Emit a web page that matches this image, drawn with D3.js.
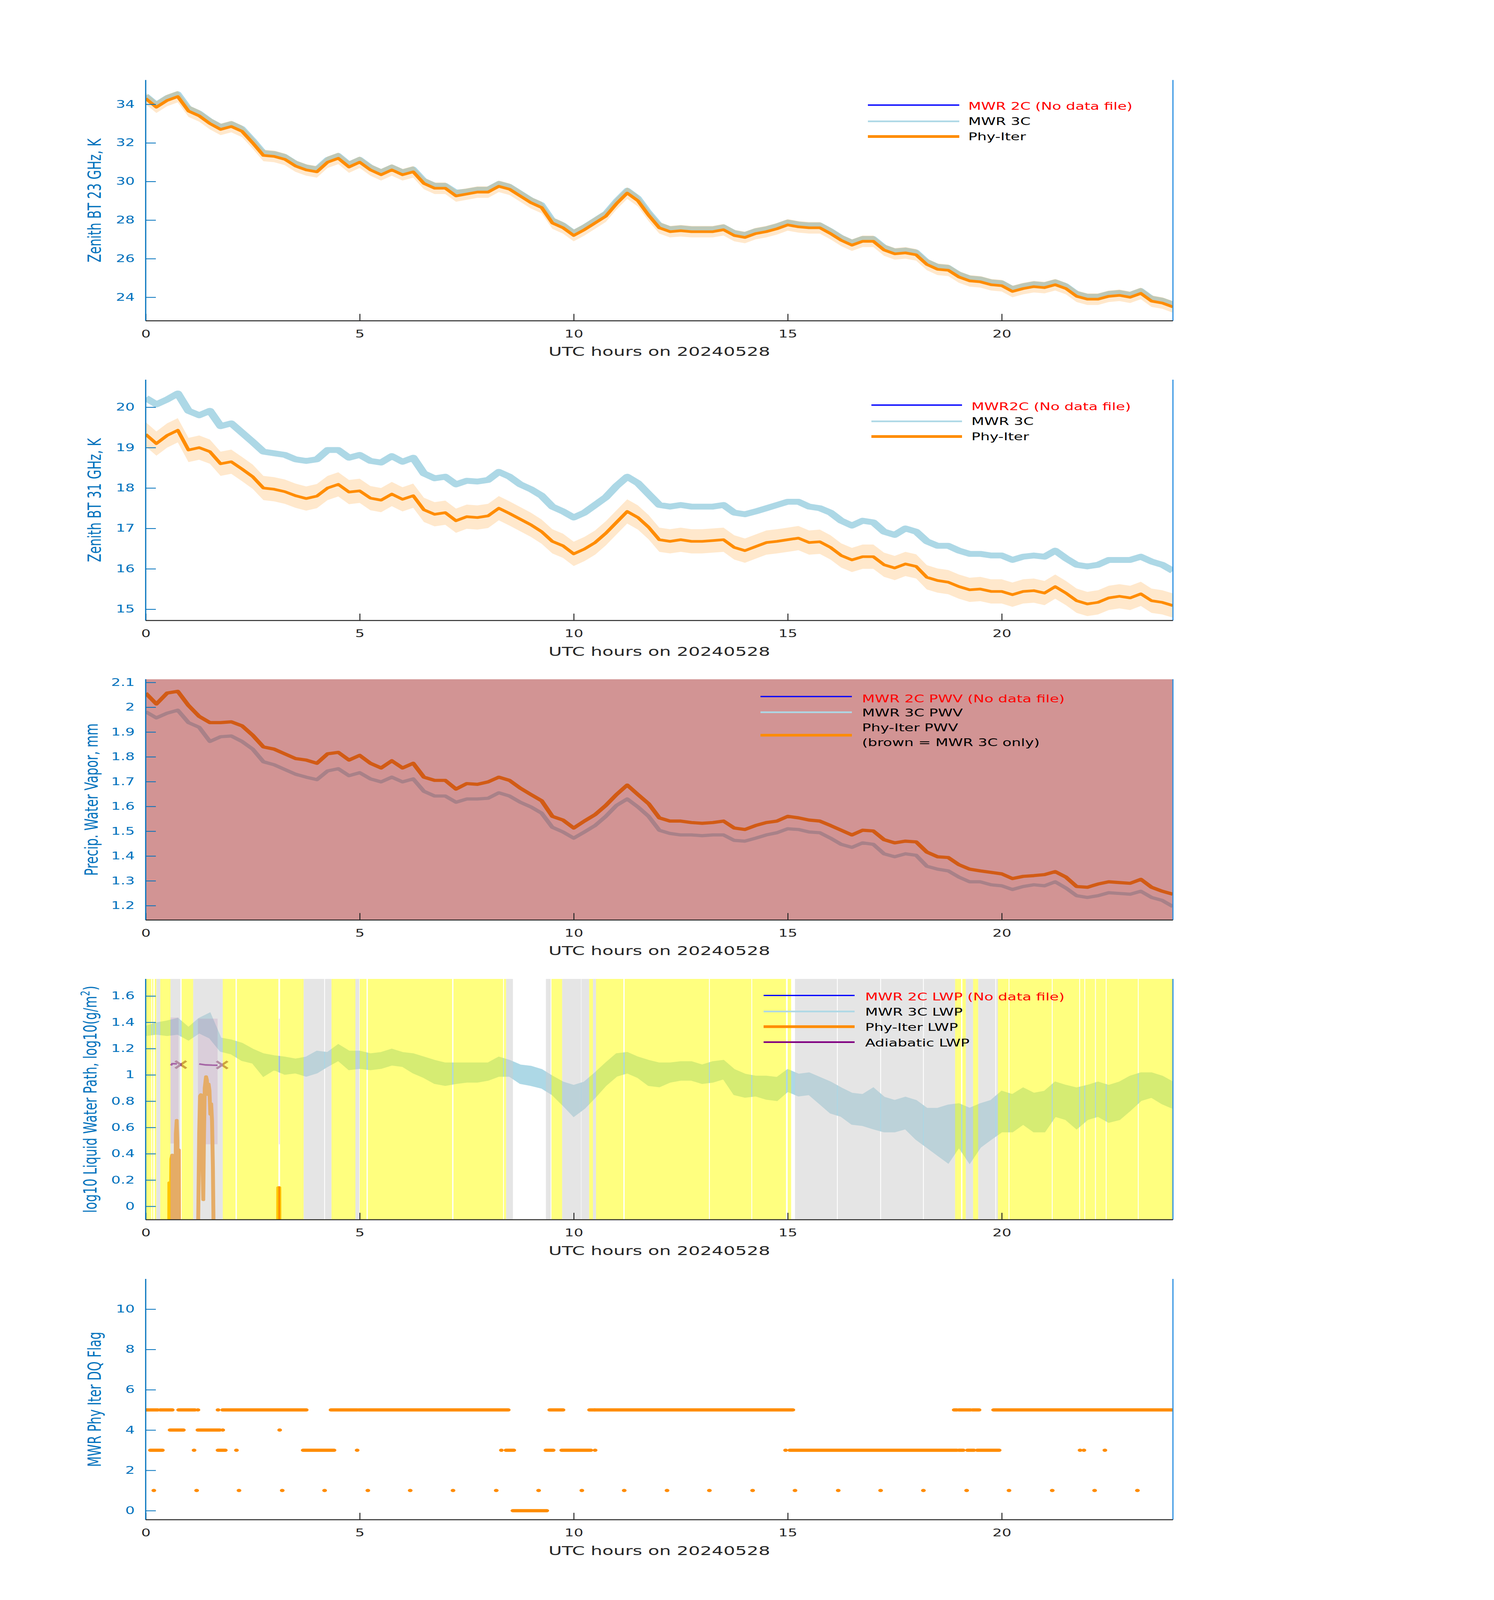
<!DOCTYPE html>
<html>
<head>
<meta charset="utf-8">
<script src="https://cdn.jsdelivr.net/npm/d3@7"></script>
<style>
  html, body { margin: 0; padding: 0; background: #fff; overflow: hidden; }
  svg { display: block; width: 100vw; height: 100vh; }
  text { font-family: "DejaVu Sans", sans-serif; }
</style>
</head>
<body>
<svg id="fig"></svg>
<script>
// ---- data (15-minute steps) ----
const hours = d3.range(0, 24.001, 0.25);

// Zenith BT 23 GHz, K
const tb23Phy = [
  34.3, 33.85, 34.2, 34.4,   33.65, 33.4, 33.0, 32.7,   32.85, 32.6, 32.0, 31.35,
  31.3, 31.15, 30.8, 30.6,   30.5, 31.0, 31.2, 30.75,   31.0, 30.6, 30.35, 30.6,
  30.35, 30.5, 29.9, 29.65,  29.65, 29.25, 29.35, 29.45, 29.45, 29.75, 29.6, 29.25,
  28.9, 28.65, 27.85, 27.6,  27.2, 27.5, 27.85, 28.2,   28.85, 29.4, 29.0, 28.25,
  27.6, 27.4, 27.45, 27.4,   27.4, 27.4, 27.5, 27.2,    27.1, 27.3, 27.4, 27.55,
  27.75, 27.65, 27.6, 27.6,  27.3, 26.95, 26.7, 26.9,   26.9, 26.45, 26.25, 26.3,
  26.2, 25.7, 25.45, 25.4,   25.05, 24.85, 24.8, 24.65, 24.6, 24.3, 24.45, 24.55,
  24.5, 24.65, 24.45, 24.05, 23.9, 23.9, 24.05, 24.1,   24.0, 24.2, 23.8, 23.7,
  23.5
];
const tb23Mwr3c = [
  34.45, 34.0, 34.35, 34.55, 33.8, 33.55, 33.15, 32.85, 33.0, 32.75, 32.15, 31.5,
  31.45, 31.3, 30.95, 30.75, 30.65, 31.15, 31.35, 30.9, 31.15, 30.75, 30.5, 30.75,
  30.5, 30.65, 30.05, 29.8,  29.8, 29.45, 29.5, 29.6,   29.6, 29.9, 29.75, 29.4,
  29.05, 28.8, 28.0, 27.75,  27.35, 27.65, 28.0, 28.35, 29.0, 29.55, 29.15, 28.4,
  27.75, 27.55, 27.6, 27.55, 27.55, 27.55, 27.65, 27.35, 27.25, 27.45, 27.55, 27.7,
  27.9, 27.8, 27.75, 27.75,  27.45, 27.1, 26.85, 27.05, 27.05, 26.6, 26.4, 26.45,
  26.35, 25.85, 25.6, 25.55, 25.2, 25.0, 24.95, 24.8,   24.75, 24.45, 24.6, 24.7,
  24.65, 24.8, 24.6, 24.2,   24.05, 24.05, 24.2, 24.25, 24.15, 24.35, 23.95, 23.85,
  23.65
];

// Zenith BT 31 GHz, K
const tb31Phy = [
  19.33, 19.1, 19.3, 19.43,  18.94, 19.0, 18.9, 18.6,   18.65, 18.47, 18.28, 18.0,
  17.97, 17.91, 17.81, 17.74, 17.8, 18.0, 18.09, 17.9,  17.93, 17.75, 17.7, 17.85,
  17.72, 17.81, 17.46, 17.35, 17.39, 17.19, 17.29, 17.27, 17.31, 17.5, 17.37, 17.23,
  17.09, 16.92, 16.68, 16.57, 16.37, 16.49, 16.65, 16.88, 17.15, 17.42, 17.27, 17.03,
  16.72, 16.68, 16.72, 16.68, 16.68, 16.7, 16.72, 16.53, 16.45, 16.55, 16.65, 16.68,
  16.72, 16.76, 16.65, 16.67, 16.53, 16.33, 16.22, 16.3, 16.3, 16.1, 16.02, 16.12,
  16.06, 15.79, 15.71, 15.67, 15.56, 15.48, 15.5, 15.44, 15.44, 15.36, 15.44, 15.46,
  15.4, 15.56, 15.4, 15.21,  15.13, 15.17, 15.28, 15.32, 15.28, 15.38, 15.21, 15.17,
  15.09
];
const tb31Mwr3c = [
  20.23, 20.07, 20.19, 20.34, 19.91, 19.8, 19.91, 19.53, 19.6, 19.37, 19.14, 18.9,
  18.86, 18.82, 18.71, 18.67, 18.71, 18.94, 18.94, 18.75, 18.82, 18.67, 18.63, 18.79,
  18.65, 18.75, 18.36, 18.24, 18.28, 18.09, 18.18, 18.16, 18.2, 18.4, 18.28, 18.09,
  17.97, 17.81, 17.54, 17.42, 17.27, 17.39, 17.58, 17.77, 18.05, 18.28, 18.12, 17.85,
  17.58, 17.54, 17.58, 17.54, 17.54, 17.54, 17.58, 17.39, 17.35, 17.42, 17.5, 17.58,
  17.66, 17.66, 17.54, 17.5, 17.39, 17.19, 17.07, 17.19, 17.15, 16.92, 16.84, 17.0,
  16.92, 16.68, 16.57, 16.57, 16.45, 16.37, 16.37, 16.33, 16.33, 16.22, 16.3, 16.33,
  16.3, 16.45, 16.26, 16.1,  16.06, 16.1, 16.22, 16.22, 16.22, 16.3, 16.18, 16.1,
  15.95
];
const tbUncertaintyK = 0.3;

// Precipitable water vapor, mm
const pwvPhy = [
  2.057, 2.013, 2.057, 2.064, 2.007, 1.963, 1.938, 1.938, 1.941, 1.925, 1.887, 1.84,
  1.831, 1.812, 1.793, 1.787, 1.774, 1.812, 1.818, 1.787, 1.806, 1.774, 1.755, 1.784,
  1.755, 1.774, 1.718, 1.705, 1.705, 1.67, 1.692, 1.689,  1.699, 1.718, 1.705, 1.674,
  1.648, 1.623, 1.56, 1.545,  1.513, 1.541, 1.567, 1.604, 1.648, 1.686, 1.648, 1.611,
  1.554, 1.541, 1.541, 1.535, 1.532, 1.535, 1.541, 1.513, 1.507, 1.523, 1.535, 1.541,
  1.56, 1.554, 1.545, 1.541,  1.523, 1.504, 1.485, 1.504, 1.501, 1.466, 1.453, 1.46,
  1.457, 1.416, 1.397, 1.394, 1.365, 1.347, 1.34, 1.334,  1.328, 1.309, 1.318, 1.321,
  1.325, 1.337, 1.315, 1.277, 1.274, 1.287, 1.296, 1.293, 1.29, 1.306, 1.274, 1.258,
  1.246
];
const pwvMwr3c = [
  1.982, 1.957, 1.976, 1.988, 1.938, 1.919, 1.862, 1.881, 1.884, 1.862, 1.831, 1.78,
  1.768, 1.749, 1.73, 1.718,  1.708, 1.743, 1.752, 1.724, 1.736, 1.711, 1.699, 1.718,
  1.699, 1.711, 1.661, 1.642, 1.642, 1.617, 1.63, 1.63,   1.633, 1.655, 1.642, 1.617,
  1.598, 1.573, 1.516, 1.497, 1.472, 1.497, 1.523, 1.56,  1.604, 1.63, 1.598, 1.56,
  1.504, 1.491, 1.485, 1.485, 1.482, 1.485, 1.485, 1.463, 1.46, 1.472, 1.485, 1.494,
  1.51, 1.507, 1.497, 1.494,  1.472, 1.447, 1.435, 1.453, 1.447, 1.409, 1.397, 1.409,
  1.403, 1.359, 1.347, 1.34,  1.315, 1.296, 1.296, 1.284, 1.28, 1.265, 1.277, 1.284,
  1.28, 1.296, 1.271, 1.24,   1.233, 1.24, 1.252, 1.249,  1.246, 1.258, 1.233, 1.221,
  1.196
];
// periods with MWR 3C only (brown patch)
const mwr3cOnlySpans = [[0, 24]];

// log10 LWP, MWR 3C spread (upper / lower envelope of the noisy trace)
const lwp3cHi = [
  1.37, 1.395, 1.41, 1.43,   1.36, 1.43, 1.47, 1.28,    1.265, 1.24, 1.195, 1.16,
  1.145, 1.135, 1.12, 1.135, 1.18, 1.17, 1.23, 1.18,    1.18, 1.16, 1.17, 1.195,
  1.17, 1.16, 1.135, 1.11,   1.09, 1.09, 1.09, 1.09,    1.09, 1.135, 1.11, 1.075,
  1.065, 1.04, 0.99, 0.945,  0.92, 0.945, 1.015, 1.09,  1.16, 1.17, 1.135, 1.11,
  1.09, 1.09, 1.10, 1.10,    1.075, 1.10, 1.11, 1.04,   1.005, 0.99, 0.99, 0.98,
  1.04, 1.005, 1.015, 0.98,  0.945, 0.9, 0.86, 0.85,    0.9, 0.83, 0.805, 0.83,
  0.805, 0.745, 0.745, 0.77, 0.78, 0.745, 0.78, 0.805,  0.875, 0.85, 0.9, 0.86,
  0.875, 0.945, 0.92, 0.9,   0.92, 0.945, 0.92, 0.945,  0.99, 1.015, 1.015, 0.99,
  0.945
];
const lwp3cLo = [
  1.30, 1.31, 1.30, 1.31,    1.265, 1.32, 1.28, 1.18,   1.16, 1.11, 1.09, 0.99,
  1.04, 1.005, 1.015, 0.99,  1.015, 1.065, 1.11, 1.04,  1.05, 1.04, 1.05, 1.075,
  1.065, 1.015, 0.98, 0.935, 0.92, 0.935, 0.945, 0.945, 0.96, 0.99, 0.99, 0.935,
  0.92, 0.9, 0.85, 0.77,     0.685, 0.745, 0.83, 0.92,  0.99, 1.015, 0.98, 0.92,
  0.91, 0.945, 0.96, 0.96,   0.935, 0.945, 0.97, 0.85,  0.83, 0.84, 0.815, 0.805,
  0.875, 0.84, 0.85, 0.78,   0.71, 0.685, 0.625, 0.615, 0.59, 0.567, 0.567, 0.59,
  0.51, 0.45, 0.39, 0.33,    0.45, 0.33, 0.45, 0.51,    0.567, 0.567, 0.625, 0.567,
  0.567, 0.685, 0.66, 0.59,  0.66, 0.685, 0.64, 0.66,   0.73, 0.805, 0.83, 0.78,
  0.745
];

// Phy-Iter LWP (only a few cloudy bursts), null = gap
const lwpPhyT = [0.55, 0.553, 0.567, 0.57, null, 0.58, 0.60, 0.62, 0.64, 0.66, null,
  0.69, 0.705, 0.725, 0.74, 0.75, null, 0.76, 0.763, 0.772, 0.775, null,
  1.22, 1.25, 1.27, 1.29, 1.31, 1.33, 1.345, 1.36, 1.38, 1.41, 1.43, 1.45, 1.47, 1.49,
  1.51, 1.53, 1.55, 1.57, 1.59, null, 3.095, 3.098, 3.122, 3.125];
const lwpPhyV = [-0.3, 0.18, 0.18, -0.3, null, -0.3, 0.36, 0.39, 0.3, -0.3, null,
  -0.3, 0.55, 0.655, 0.5, -0.3, null, -0.3, 0.43, 0.43, -0.3, null,
  -0.3, 0.55, 0.84, 0.85, 0.7, 0.3, 0.05, 0.5, 0.9, 0.987, 0.96, 0.85, 0.93, 0.88,
  0.7, 0.78, 0.65, 0.3, -0.3, null, -0.3, 0.143, 0.143, -0.3];

// Adiabatic LWP
const adiabT = [0.59, 0.62, 0.66, 0.73, null, 1.25, 1.40, 1.55, 1.68];
const adiabV = [1.072, 1.085, 1.085, 1.084, null, 1.083, 1.076, 1.074, 1.073];
const adiabMarkT = [0.82, 1.785];
const adiabMarkV = [1.078, 1.076];
const adiabRangeSpans = [[0.58, 0.77], [1.22, 1.68], [3.115, 3.13]];
const adiabRangeLo = [0.478, 0.472, 0.472];
const adiabRangeHi = [1.437, 1.428, 1.428];

// sky condition shading in the LWP panel
const yellowSpans = [[0, 0.13], [0.15, 0.18], [0.21, 0.25], [0.34, 0.58], [0.84, 1.11],
  [1.80, 2.10], [2.13, 3.10], [3.14, 3.69], [4.34, 4.90], [5.00, 5.16], [5.19, 7.16],
  [7.19, 8.35], [8.37, 8.42], [9.48, 9.73], [10.36, 10.45], [10.52, 11.16], [11.19, 13.16],
  [13.18, 14.15], [14.17, 14.96], [15.00, 15.08], [18.91, 19.05], [19.08, 19.16],
  [19.33, 19.45], [19.91, 20.16], [20.18, 21.17], [21.19, 21.81], [21.83, 21.93],
  [21.95, 22.18], [22.20, 22.43], [22.45, 23.18], [23.20, 24]];
const graySpans = [[0.25, 0.34], [0.58, 0.81], [1.11, 1.80], [3.69, 4.17], [4.19, 4.34],
  [4.90, 4.99], [8.42, 8.58], [9.35, 9.46], [9.73, 10.17], [10.18, 10.36], [10.45, 10.52],
  [15.17, 16.15], [16.17, 17.16], [17.18, 18.16], [18.18, 18.91], [19.16, 19.33],
  [19.45, 19.85], [19.87, 19.91]];

// DQ flag: spans of hours where each flag value is set
const flagValues = [5, 4, 3, 1, 0];
const flagSpans = [
  [[0, 0.28], [0.34, 0.62], [0.77, 1.15], [1.22, 1.22], [1.69, 1.69], [1.8, 3.75],
   [4.33, 4.94], [4.98, 8.47], [9.44, 9.75], [10.37, 10.48], [10.5, 15.12],
   [18.89, 18.95], [19.0, 19.27], [19.32, 19.47], [19.81, 24.0]],
  [[0.57, 0.88], [1.22, 1.73], [1.8, 1.8], [3.13, 3.13]],
  [[0.11, 0.39], [1.13, 1.13], [1.69, 1.86], [2.12, 2.12], [3.68, 4.4], [4.94, 4.94],
   [8.31, 8.31], [8.42, 8.6], [9.35, 9.52], [9.72, 10.4], [10.5, 10.5], [14.95, 14.95],
   [15.05, 18.95], [19.0, 19.1], [19.2, 19.35], [19.43, 19.94], [21.83, 21.83],
   [21.92, 21.92], [22.41, 22.41]],
  [0.19, 1.19, 2.18, 3.19, 4.18, 5.19, 6.18, 7.18, 8.19, 9.18, 10.19, 11.18, 12.18,
   13.17, 14.18, 15.17, 16.18, 17.17, 18.17, 19.18, 20.17, 21.18, 22.17, 23.17].map(t => [t, t]),
  [[8.58, 9.37]]
];

const xTickValues = [0, 5, 10, 15, 20];
const xLabel = 'UTC hours on 20240528';

// ---- layout (figure units; the svg is stretched to the window) ----
const width = 3825;
const height = 6000;
const left = 373;
const right = 3003;
const plotH = 903;
const tops = [300, 1424, 2547, 3671, 4796];

const axBlue = '#0072BD';
const rightBlue = '#2A8FE2';
const dark = '#262626';
const lightBlue = '#ADD8E6';
const orange = '#FF8C00';
const purple = '#800080';

const svg = d3.select('#fig')
  .attr('viewBox', `0 0 ${width} ${height}`)
  .attr('preserveAspectRatio', 'none');

svg.append('rect')
  .attr('width', width)
  .attr('height', height)
  .attr('fill', '#fff');

const x = d3.scaleLinear().domain([0, 24]).range([left, right]);

const series = (vals) => hours.map((t, k) => ({ t, v: vals[k] }));
const zipTV = (ts, vs) => ts.map((t, k) => ({ t, v: vs[k] }));

function makePanel(i, yDomain) {
  const top = tops[i];
  const bottom = top + plotH;
  const y = d3.scaleLinear().domain(yDomain).range([bottom, top]);
  const g = svg.append('g');
  g.append('clipPath')
    .attr('id', 'clip' + i)
    .append('rect')
    .attr('x', left)
    .attr('y', top)
    .attr('width', right - left)
    .attr('height', plotH);
  const plot = g.append('g').attr('clip-path', `url(#clip${i})`);
  return { g, plot, y, top, bottom };
}

function drawAxes(p, yTicks, fmt, ylabel, labelX) {
  // y axis, ticks pointing inward
  p.g.append('g')
    .attr('transform', `translate(${left},0)`)
    .call(d3.axisLeft(p.y).tickValues(yTicks).tickFormat(fmt)
      .tickSizeInner(-26).tickSizeOuter(0).tickPadding(28))
    .attr('font-size', 38)
    .attr('font-family', 'DejaVu Sans')
    .call(a => {
      a.select('.domain').remove();
      a.selectAll('line').attr('stroke', axBlue).attr('stroke-width', 3);
      a.selectAll('text').attr('fill', axBlue);
    });

  p.g.append('g')
    .attr('transform', `translate(0,${p.bottom})`)
    .call(d3.axisBottom(x).tickValues(xTickValues).tickFormat(d3.format('d'))
      .tickSizeInner(-26).tickSizeOuter(0).tickPadding(35))
    .attr('font-size', 38)
    .attr('font-family', 'DejaVu Sans')
    .call(a => {
      a.select('.domain').remove();
      a.selectAll('line').attr('stroke', dark).attr('stroke-width', 2.5);
      a.selectAll('text').attr('fill', dark);
    });

  p.g.append('line')
    .attr('x1', left).attr('x2', left)
    .attr('y1', p.top).attr('y2', p.bottom)
    .attr('stroke', axBlue).attr('stroke-width', 3);
  p.g.append('line')
    .attr('x1', right).attr('x2', right)
    .attr('y1', p.top).attr('y2', p.bottom)
    .attr('stroke', rightBlue).attr('stroke-width', 3);
  p.g.append('line')
    .attr('x1', left).attr('x2', right)
    .attr('y1', p.bottom).attr('y2', p.bottom)
    .attr('stroke', dark).attr('stroke-width', 3.5);

  p.g.append('text')
    .attr('x', (left + right) / 2)
    .attr('y', p.bottom + 132)
    .attr('text-anchor', 'middle')
    .attr('font-size', 47)
    .attr('fill', dark)
    .text(xLabel);

  const yl = p.g.append('text')
    .attr('transform', `translate(${labelX},${(p.top + p.bottom) / 2}) rotate(-90)`)
    .attr('text-anchor', 'middle')
    .attr('font-size', 46)
    .attr('fill', axBlue);
  if (typeof ylabel === 'string') yl.text(ylabel);
  else ylabel(yl);
}

function drawLegend(p, items, x0, x1, tx) {
  const lg = p.g.append('g');
  items.forEach(it => {
    if (it.color) {
      lg.append('line')
        .attr('x1', x0).attr('x2', x1)
        .attr('y1', it.ly).attr('y2', it.ly)
        .attr('stroke', it.color)
        .attr('stroke-width', it.w);
    }
    lg.append('text')
      .attr('x', tx)
      .attr('y', it.ty)
      .attr('dy', '0.36em')
      .attr('font-size', 38)
      .attr('fill', it.textColor || '#000')
      .text(it.label);
  });
}

const fmt1 = d => String(+d.toFixed(1));

// ---- panel 1: 23 GHz ----
{
  const p = makePanel(0, [22.78, 35.26]);
  const line = d3.line().x(d => x(d.t)).y(d => p.y(d.v));
  p.plot.append('path')
    .attr('d', line(series(tb23Mwr3c)))
    .attr('fill', 'none').attr('stroke', lightBlue).attr('stroke-width', 18)
    .attr('stroke-linejoin', 'round');
  p.plot.append('path')
    .attr('d', d3.area().x(d => x(d.t))
      .y0(d => p.y(d.v - tbUncertaintyK)).y1(d => p.y(d.v + tbUncertaintyK))(series(tb23Phy)))
    .attr('fill', orange).attr('fill-opacity', 0.2);
  p.plot.append('path')
    .attr('d', line(series(tb23Phy)))
    .attr('fill', 'none').attr('stroke', orange).attr('stroke-width', 10)
    .attr('stroke-linejoin', 'round');
  drawAxes(p, d3.range(24, 34.1, 2), d3.format('d'), 'Zenith BT 23 GHz, K', 258);
  drawLegend(p, [
    { label: 'MWR 2C (No data file)', color: '#0000FF', w: 5, textColor: '#FF0000', ly: 394, ty: 398 },
    { label: 'MWR 3C', color: lightBlue, w: 6, ly: 455, ty: 455 },
    { label: 'Phy-Iter', color: orange, w: 10, ly: 512, ty: 512 }
  ], 2222, 2456, 2479);
}

// ---- panel 2: 31 GHz ----
{
  const p = makePanel(1, [14.72, 20.68]);
  const line = d3.line().x(d => x(d.t)).y(d => p.y(d.v));
  p.plot.append('path')
    .attr('d', line(series(tb31Mwr3c)))
    .attr('fill', 'none').attr('stroke', lightBlue).attr('stroke-width', 22)
    .attr('stroke-linejoin', 'round');
  p.plot.append('path')
    .attr('d', d3.area().x(d => x(d.t))
      .y0(d => p.y(d.v - tbUncertaintyK)).y1(d => p.y(d.v + tbUncertaintyK))(series(tb31Phy)))
    .attr('fill', orange).attr('fill-opacity', 0.2);
  p.plot.append('path')
    .attr('d', line(series(tb31Phy)))
    .attr('fill', 'none').attr('stroke', orange).attr('stroke-width', 10)
    .attr('stroke-linejoin', 'round');
  drawAxes(p, d3.range(15, 20.1, 1), d3.format('d'), 'Zenith BT 31 GHz, K', 258);
  drawLegend(p, [
    { label: 'MWR2C (No data file)', color: '#0000FF', w: 5, textColor: '#FF0000', ly: 1519, ty: 1525 },
    { label: 'MWR 3C', color: lightBlue, w: 6, ly: 1580, ty: 1580 },
    { label: 'Phy-Iter', color: orange, w: 10, ly: 1637, ty: 1637 }
  ], 2231, 2463, 2487);
}

// ---- panel 3: PWV ----
{
  const p = makePanel(2, [1.142, 2.113]);
  const line = d3.line().x(d => x(d.t)).y(d => p.y(d.v));
  p.plot.append('path')
    .attr('d', line(series(pwvMwr3c)))
    .attr('fill', 'none').attr('stroke', lightBlue).attr('stroke-width', 12)
    .attr('stroke-linejoin', 'round');
  p.plot.append('path')
    .attr('d', line(series(pwvPhy)))
    .attr('fill', 'none').attr('stroke', orange).attr('stroke-width', 12)
    .attr('stroke-linejoin', 'round');
  p.plot.selectAll('rect.brown')
    .data(mwr3cOnlySpans)
    .enter()
    .append('rect')
    .attr('class', 'brown')
    .attr('x', d => x(d[0]))
    .attr('width', d => x(d[1]) - x(d[0]))
    .attr('y', p.top)
    .attr('height', plotH)
    .attr('fill', '#A52A2A')
    .attr('fill-opacity', 0.5);
  drawAxes(p, d3.range(1.2, 2.11, 0.1), fmt1, 'Precip. Water Vapor, mm', 250);
  drawLegend(p, [
    { label: 'MWR 2C PWV (No data file)', color: '#0000FF', w: 5, textColor: '#FF0000', ly: 2612, ty: 2620 },
    { label: 'MWR 3C PWV', color: lightBlue, w: 6, ly: 2671, ty: 2673 },
    { label: 'Phy-Iter PWV', color: orange, w: 10, ly: 2757, ty: 2729 },
    { label: '(brown = MWR 3C only)', ty: 2784 }
  ], 1947, 2181, 2207);
}

// ---- panel 4: LWP ----
{
  const p = makePanel(3, [-0.102, 1.73]);
  p.plot.append('path')
    .attr('d', d3.area().x(d => x(d.t)).y0(d => p.y(d.lo)).y1(d => p.y(d.hi))
      (hours.map((t, k) => ({ t, lo: lwp3cLo[k], hi: lwp3cHi[k] }))))
    .attr('fill', lightBlue)
    .attr('stroke', lightBlue).attr('stroke-width', 4);

  p.plot.selectAll('rect.adiab')
    .data(adiabRangeSpans)
    .enter()
    .append('rect')
    .attr('class', 'adiab')
    .attr('x', d => x(d[0]))
    .attr('width', d => Math.max(2, x(d[1]) - x(d[0])))
    .attr('y', (d, k) => p.y(adiabRangeHi[k]))
    .attr('height', (d, k) => p.y(adiabRangeLo[k]) - p.y(adiabRangeHi[k]))
    .attr('fill', purple)
    .attr('fill-opacity', 0.18);

  const lineD = d3.line().defined(d => d.v !== null).x(d => x(d.t)).y(d => p.y(d.v));
  p.plot.append('path')
    .attr('d', lineD(zipTV(lwpPhyT, lwpPhyV)))
    .attr('fill', 'none').attr('stroke', orange).attr('stroke-width', 10)
    .attr('stroke-linejoin', 'round');
  p.plot.append('path')
    .attr('d', lineD(zipTV(adiabT, adiabV)))
    .attr('fill', 'none').attr('stroke', purple).attr('stroke-width', 6);
  const mk = 14;
  p.plot.selectAll('path.mark')
    .data(zipTV(adiabMarkT, adiabMarkV))
    .enter()
    .append('path')
    .attr('class', 'mark')
    .attr('d', d => {
      const cx = x(d.t), cy = p.y(d.v);
      return `M${cx - mk},${cy - mk}L${cx + mk},${cy + mk}M${cx - mk},${cy + mk}L${cx + mk},${cy - mk}`;
    })
    .attr('stroke', '#9A4A7A').attr('stroke-width', 7);

  p.plot.selectAll('rect.yel')
    .data(yellowSpans)
    .enter()
    .append('rect')
    .attr('class', 'yel')
    .attr('x', d => x(d[0]))
    .attr('width', d => x(d[1]) - x(d[0]))
    .attr('y', p.top).attr('height', plotH)
    .attr('fill', '#FFFF00').attr('fill-opacity', 0.5);
  p.plot.selectAll('rect.gry')
    .data(graySpans)
    .enter()
    .append('rect')
    .attr('class', 'gry')
    .attr('x', d => x(d[0]))
    .attr('width', d => x(d[1]) - x(d[0]))
    .attr('y', p.top).attr('height', plotH)
    .attr('fill', '#CCCCCC').attr('fill-opacity', 0.5);

  drawAxes(p, d3.range(0, 1.61, 0.2), fmt1, t => {
    t.append('tspan').text('log10 Liquid Water Path, log10(g/m');
    t.append('tspan').attr('font-size', 32).attr('dy', -18).text('2');
    t.append('tspan').attr('dy', 18).text(')');
  }, 247);
  drawLegend(p, [
    { label: 'MWR 2C LWP (No data file)', color: '#0000FF', w: 5, textColor: '#FF0000', ly: 3733, ty: 3738 },
    { label: 'MWR 3C LWP', color: lightBlue, w: 6, ly: 3793, ty: 3795 },
    { label: 'Phy-Iter LWP', color: orange, w: 10, ly: 3850, ty: 3852 },
    { label: 'Adiabatic LWP', color: purple, w: 6, ly: 3908, ty: 3910 }
  ], 1955, 2188, 2215);
}

// ---- panel 5: DQ flag ----
{
  const p = makePanel(4, [-0.45, 11.5]);
  const segs = [];
  flagValues.forEach((f, k) => flagSpans[k].forEach(s => segs.push({ f, t0: s[0], t1: s[1] })));
  p.plot.selectAll('line.flag')
    .data(segs)
    .enter()
    .append('line')
    .attr('class', 'flag')
    .attr('x1', d => x(d.t0))
    .attr('x2', d => x(d.t1))
    .attr('y1', d => p.y(d.f))
    .attr('y2', d => p.y(d.f))
    .attr('stroke', orange)
    .attr('stroke-width', 12)
    .attr('stroke-linecap', 'round');
  drawAxes(p, d3.range(0, 10.1, 2), d3.format('d'), 'MWR Phy Iter DQ Flag', 258);
}
</script>
</body>
</html>
